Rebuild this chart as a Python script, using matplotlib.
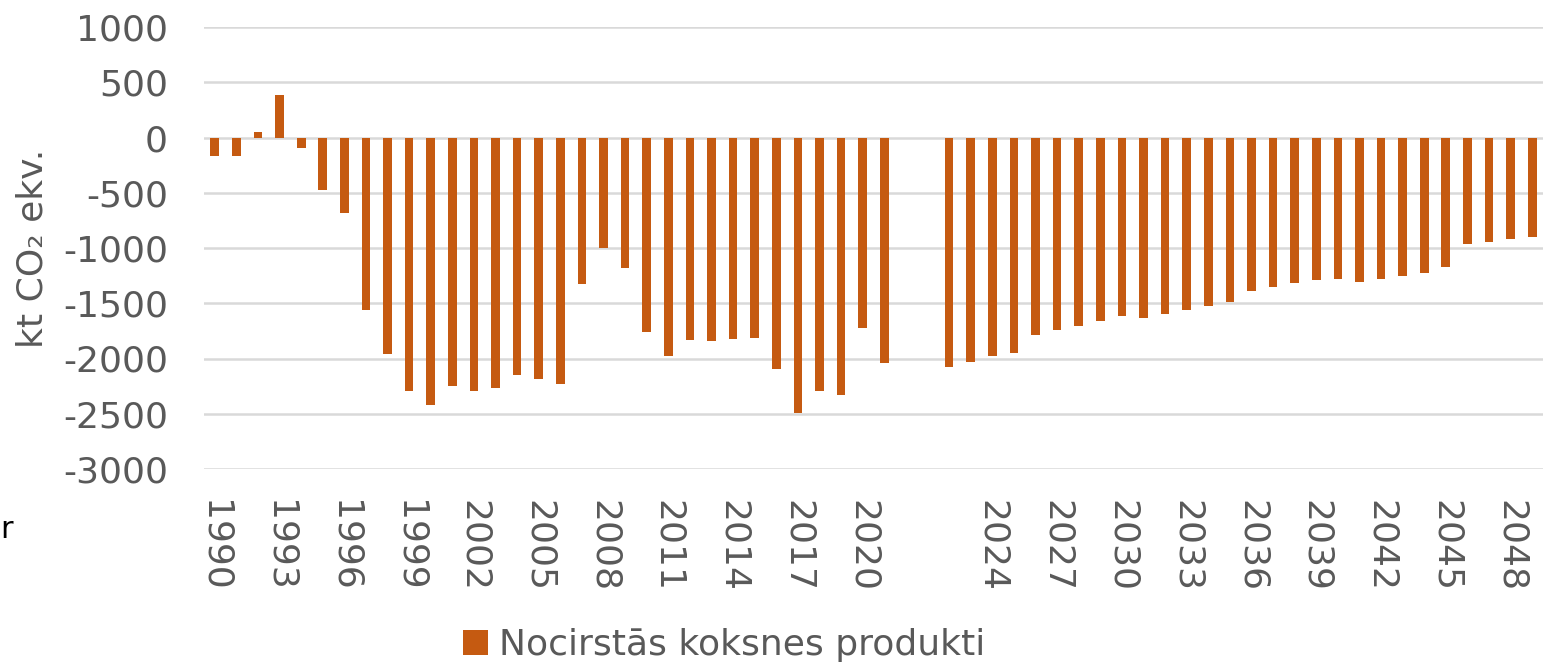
import numpy as np
import matplotlib.pyplot as plt

# vēsturiskie dati 1990-2021 un prognoze 2022-2049
years_hist = list(range(1990, 2022))
years_proj = list(range(2022, 2050))

hwp_hist = [-169, -163, 48, 386, -99, -476, -684, -1563, -1961, -2298,
            -2419, -2253, -2292, -2265, -2145, -2187, -2229, -1322, -997, -1178,
            -1759, -1973, -1834, -1844, -1823, -1817, -2098, -2494, -2297, -2331,
            -1726, -2037]
hwp_proj = [-2077, -2028, -1980, -1953, -1784, -1741, -1702, -1660, -1611, -1632,
            -1596, -1560, -1524, -1487, -1385, -1354, -1321, -1294, -1285, -1312,
            -1285, -1255, -1227, -1176, -961, -943, -919, -898]

# divas tukšas kategorijas starp vēsturi un prognozi
categories = [str(y) for y in years_hist] + ["", ""] + [str(y) for y in years_proj]
values = hwp_hist + [np.nan, np.nan] + hwp_proj

bar_color = "#C55A11"
text_color = "#595959"
grid_color = "#D9D9D9"

plt.rcParams["font.family"] = ["DejaVu Sans"]
plt.rcParams["axes.unicode_minus"] = False

fig = plt.figure(figsize=(15.47, 6.64), dpi=100)
ax = fig.add_axes([204 / 1547, 1 - 469 / 664, 1339 / 1547, 442 / 664])

x = np.arange(len(categories))
ax.bar(x, values, width=0.4, color=bar_color, label="Nocirstās koksnes produkti", zorder=3)

ax.set_xlim(-0.5, len(categories) - 0.5)
ax.set_ylim(-3000, 1000)
ax.set_yticks(np.arange(-3000, 1001, 500))
ax.yaxis.grid(True, color=grid_color, linewidth=1.8, zorder=0)
ax.set_axisbelow(True)

tick_pos = x[::3]
ax.set_xticks(tick_pos)
ax.set_xticklabels([categories[i] for i in tick_pos], rotation=-90)

for s in ax.spines.values():
    s.set_visible(False)
ax.tick_params(axis="both", length=0, labelsize=26, colors=text_color)
ax.tick_params(axis="y", pad=26)
ax.tick_params(axis="x", pad=22)
for lbl in ax.get_xticklabels():
    lbl.set_verticalalignment("top")
    lbl.set_horizontalalignment("center")

ax.set_ylabel("kt CO\u2082 ekv.", fontsize=26, color=text_color)
ax.yaxis.set_label_coords(-154 / 1339, 0.5)

fig.legend(loc="center", bbox_to_anchor=(724 / 1547, 1 - 645 / 664), frameon=False,
           fontsize=26, labelcolor=text_color, handlelength=0.7, handleheight=0.7,
           handletextpad=0.3)

fig.text(0.0, 1 - 530 / 664, "r", fontsize=22, color="black", va="center", ha="left")

fig.savefig("out.png", dpi=100)
